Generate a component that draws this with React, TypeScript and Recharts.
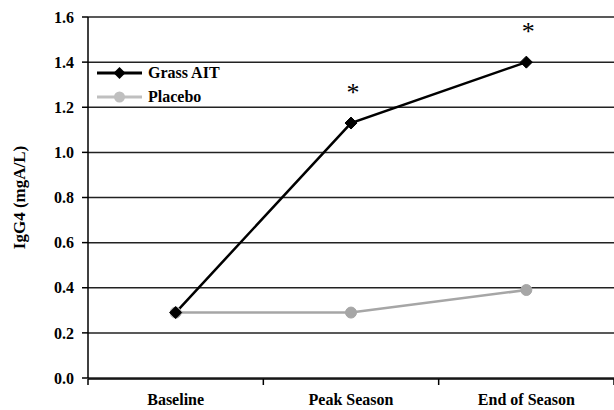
import React from 'react';
import { LineChart, Line, XAxis, YAxis, CartesianGrid, LabelList } from 'recharts';

const categories = ['Baseline', 'Peak Season', 'End of Season'];
const grassAIT = [0.29, 1.13, 1.40];
const placebo = [0.29, 0.29, 0.39];
const significance = ['', '*', '*'];
const yTicks = [0, 0.2, 0.4, 0.6, 0.8, 1.0, 1.2, 1.4, 1.6];

const data = categories.map((c, i) => ({
  x: i + 0.5,
  name: c,
  grass: grassAIT[i],
  placebo: placebo[i],
  sig: significance[i],
}));

const FONT = '"Liberation Serif", "Times New Roman", serif';
const textStyle = { fontFamily: FONT, fontWeight: 'bold' as const };

const Diamond = (props: any) => {
  const { cx, cy } = props;
  if (cx == null || cy == null) return null;
  const s = 6;
  return <polygon points={`${cx},${cy - s} ${cx + s},${cy} ${cx},${cy + s} ${cx - s},${cy}`} fill="#000" stroke="#000" strokeWidth={1} />;
};

const GrayDot = (props: any) => {
  const { cx, cy } = props;
  if (cx == null || cy == null) return null;
  return <circle cx={cx} cy={cy} r={5.5} fill="#a6a6a6" stroke="#a6a6a6" />;
};

const SigLabel = (props: any) => {
  const { x, y, value } = props;
  if (!value) return null;
  return (
    <text x={x + 2} y={y - 22} textAnchor="middle" style={{ fontFamily: FONT, fontSize: 26 }} fill="#000">
      {value}
    </text>
  );
};

const Legend2 = () => (
  <g>
    <line x1={97} y1={73} x2={142} y2={73} stroke="#000" strokeWidth={3} />
    <polygon points="119.5,67 125.5,73 119.5,79 113.5,73" fill="#000" />
    <text x={148} y={78} fill="#000" style={{ fontFamily: FONT, fontWeight: 'bold', fontSize: 16 }}>Grass AIT</text>
    <line x1={97} y1={97} x2={142} y2={97} stroke="#bfbfbf" strokeWidth={3} />
    <circle cx={119.5} cy={97} r={5.5} fill="#bfbfbf" />
    <text x={148} y={102} fill="#000" style={{ fontFamily: FONT, fontWeight: 'bold', fontSize: 16 }}>Placebo</text>
  </g>
);

export default function App() {
  return (
    <div style={{ position: 'absolute', left: 0, top: 0 }}>
      <LineChart width={614} height={410} data={data} margin={{ top: 17, right: 0, left: 0, bottom: 0 }}>
        <CartesianGrid vertical={false} stroke="#222" strokeWidth={1.5} />
        <XAxis
          xAxisId="labels"
          dataKey="x"
          type="number"
          domain={[0, 3]}
          ticks={[0.5, 1.5, 2.5]}
          tickFormatter={(v: number) => categories[Math.floor(v)]}
          height={1}
          axisLine={false}
          tickLine={false}
          tickSize={0}
          tickMargin={16}
          tick={{ style: textStyle, fontSize: 16, fill: '#000' }}
        />
        <XAxis
          xAxisId="main"
          dataKey="x"
          type="number"
          domain={[0, 3]}
          ticks={[0, 1, 2, 3]}
          tickFormatter={() => ''}
          height={31}
          tickSize={6}
          stroke="#000"
          strokeWidth={1.5}
        />
        <YAxis
          width={88}
          domain={[0, 1.6]}
          ticks={yTicks}
          tickFormatter={(v: number) => v.toFixed(1)}
          tickSize={6}
          tickMargin={8}
          stroke="#000"
          strokeWidth={1.5}
          tick={{ style: textStyle, fontSize: 16, fill: '#000' }}
          label={{
            value: 'IgG4 (mgA/L)',
            angle: -90,
            position: 'center',
            dx: -25,
            style: { fontFamily: FONT, fontWeight: 'bold', fontSize: 17, fill: '#000', textAnchor: 'middle' },
          }}
        />
        <Line
          xAxisId="main"
          dataKey="placebo"
          stroke="#a6a6a6"
          strokeWidth={2.5}
          dot={<GrayDot />}
          isAnimationActive={false}
        />
        <Line
          xAxisId="main"
          dataKey="grass"
          stroke="#000"
          strokeWidth={2.5}
          dot={<Diamond />}
          isAnimationActive={false}
        >
          <LabelList dataKey="sig" content={<SigLabel />} />
        </Line>
        <Legend2 />
      </LineChart>
    </div>
  );
}
